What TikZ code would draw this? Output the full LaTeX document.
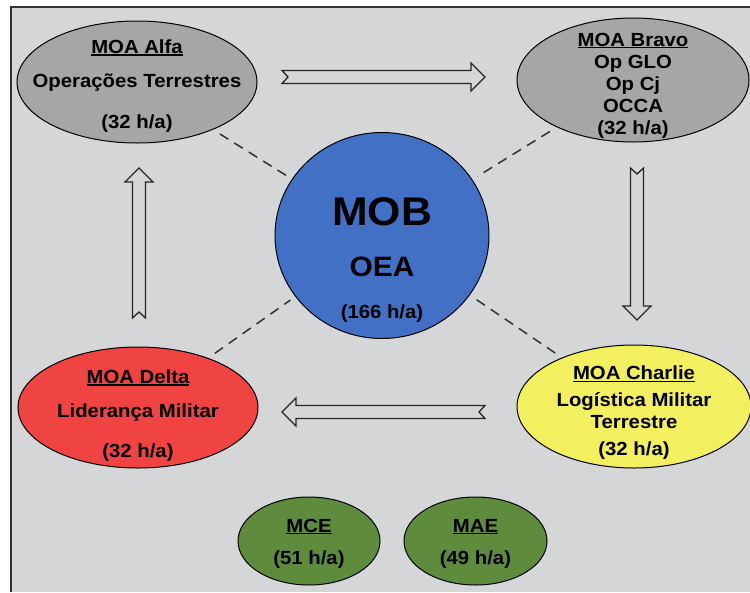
\documentclass[tikz,border=0pt]{standalone}
\usepackage{fontspec}
\setmainfont{Liberation Sans}[FakeStretch=1.07]
\usetikzlibrary{shapes.geometric}
\definecolor{bgc}{RGB}{212,214,216}
\definecolor{frmc}{RGB}{50,50,50}
\definecolor{gryc}{RGB}{166,166,166}
\definecolor{bluc}{RGB}{66,112,196}
\definecolor{redc}{RGB}{240,68,66}
\definecolor{yelc}{RGB}{243,240,96}
\definecolor{grnc}{RGB}{94,140,60}
\newcommand{\hd}[1]{\setbox0\hbox{#1}\rlap{\rule[-2.2pt]{\wd0}{1.6pt}}\box0}
\begin{document}
\begin{tikzpicture}[x=1pt, y=-1pt,
  moa/.style = {draw, ellipse, line width=1pt, inner sep=0pt},
  txt/.style = {align=center, font=\fontsize{19}{22}\selectfont\bfseries},
  dsh/.style = {draw=frmc, dash pattern=on 10pt off 7pt, line width=1.5pt, shorten <=8pt, shorten >=6pt},
  pics/blkarrow/.style = {code={
    \draw[line width=1.3pt, draw=black!85] (0,-6.5) -- (#1-14,-6.5) -- (#1-14,-14) -- (#1,0) -- (#1-14,14) -- (#1-14,6.5) -- (0,6.5) -- (6,0) -- cycle;
  }}]
\useasboundingbox (0,0) rectangle (750,592);
\fill[white] (0,0) rectangle (750,592);
\fill[bgc] (11,7) rectangle (750,592);
\draw[line width=2pt, draw=frmc] (11,592) -- (11,7) -- (750,7);

\node[moa, fill=bluc, minimum width=214pt, minimum height=206pt,
  label={[txt, yshift=-25pt]center:{{\fontsize{40}{44}\selectfont MOB}\\[29pt]{\fontsize{28}{30}\selectfont OEA}\\[20pt](166 h/a)}}] (mob) at (382,235.5) {};
\node[moa, fill=gryc, minimum width=240pt, minimum height=122pt,
  label={[txt, yshift=-4pt]center:{\hd{MOA Alfa}\\[12pt]Operações Terrestres\\[19pt](32 h/a)}}] (alfa) at (137,82) {};
\node[moa, fill=gryc, minimum width=232pt, minimum height=124pt,
  label={[txt, yshift=-5.5pt]center:{\hd{MOA Bravo}\\Op GLO\\Op Cj\\OCCA\\(32 h/a)}}] (bravo) at (633,80) {};
\node[moa, fill=yelc, minimum width=234pt, minimum height=123pt,
  label={[txt, yshift=-6.5pt]center:{\hd{MOA Charlie}\\[5pt]Logística Militar\\Terrestre\\[5pt](32 h/a)}}] (charlie) at (634,406.5) {};
\node[moa, fill=redc, minimum width=240pt, minimum height=121pt,
  label={[txt, yshift=-8pt]center:{\hd{MOA Delta}\\[12pt]Liderança Militar\\[18pt](32 h/a)}}] (delta) at (138,407.5) {};
\node[moa, fill=grnc, minimum width=142pt, minimum height=88pt,
  label={[txt, yshift=-2.5pt]center:{\hd{MCE}\\[10pt](51 h/a)}}] (mce) at (309,541) {};
\node[moa, fill=grnc, minimum width=143pt, minimum height=88pt,
  label={[txt, yshift=-2.5pt]center:{\hd{MAE}\\[10pt](49 h/a)}}] (mae) at (475.5,541) {};

\draw[dsh] (alfa) -- (mob);
\draw[dsh] (bravo) -- (mob);
\draw[dsh] (charlie) -- (mob);
\draw[dsh] (delta) -- (mob);

\pic at (282,77) {blkarrow=203};
\pic[rotate=-90] at (637,168) {blkarrow=152};
\pic[rotate=180] at (485,412) {blkarrow=203};
\pic[rotate=90] at (139,318) {blkarrow=150};
\end{tikzpicture}
\end{document}
